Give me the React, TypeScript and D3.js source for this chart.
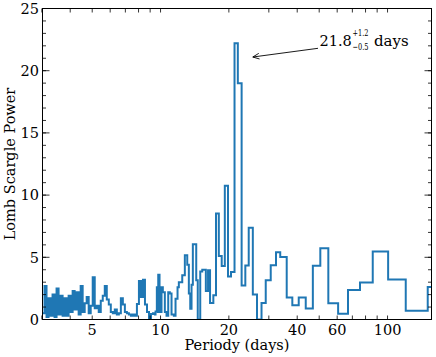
import React from "react";
import * as d3 from "d3";

// Step-plot data: left edge of each step (period, days) and Lomb-Scargle power
const periods = [
  3.021, 3.083, 3.146, 3.211, 3.277, 3.344, 3.413, 3.483, 3.555, 3.628,
  3.703, 3.779, 3.857, 3.936, 4.017, 4.1, 4.184, 4.27, 4.358, 4.448,
  4.539, 4.633, 4.728, 4.825, 4.925, 5.026, 5.13, 5.235, 5.343, 5.453,
  5.565, 5.68, 5.797, 5.916, 6.038, 6.162, 6.289, 6.419, 6.551, 6.686,
  6.823, 6.964, 7.107, 7.254, 7.403, 7.556, 7.711, 7.87, 8.032, 8.198,
  8.367, 8.539, 8.715, 8.894, 9.078, 9.265, 9.455, 9.506, 9.632, 9.73,
  9.769, 9.899, 10.1, 10.236, 10.446, 10.627, 10.812, 10.989, 11.18, 11.444,
  11.643, 11.882, 12.04, 12.463, 12.796, 13.112, 13.326, 13.517, 13.696, 13.878,
  14.364, 14.585, 14.96, 15.268, 15.834, 16.191, 16.524, 17.086, 17.556, 18.062,
  18.6, 19.194, 19.828, 20.44, 21.182, 21.903, 22.763, 23.633, 24.462, 25.501,
  26.612, 27.854, 29.069, 30.581, 32.269, 33.674, 35.963, 38.067, 40.624, 43.619,
  46.877, 50.567, 54.847, 60.579, 66.983, 75.638, 86.064, 100.61, 120.29, 150.33,
  156.2,
];
const power = [
  0.5, 2.7, 0.2, 1.7, 0.3, 2.0, 0.2, 2.5, 0.4, 1.9,
  0.3, 1.7, 0.3, 1.9, 0.6, 2.3, 0.8, 2.2, 0.4, 2.7,
  0.6, 1.3, 1.8, 0.5, 1.1, 3.4, 0.9, 1.1, 0.6, 1.5,
  1.9, 2.7, 1.6, 1.2, 0.6, 0.5, 0.8, 0.4, 0.5, 1.7,
  1.2, 0.6, 0.5, 0.4, 0.3, 0.4, 0.3, 1.25, 3.1, 1.8,
  3.2, 1.2, 0.6, 0.1, 0.45, 0.5, 0.4, 0.65, 2.6, 0.6,
  3.6, 0.6, 2.6, 2.2, 0.6, 0.3, 2.2, 2.1, 0.4, 0.3,
  1.67, 2.6, 3.0, 3.55, 5.16, 4.41, 2.1, 0.86, 2.8, 6.05,
  3.15, 0.0, 3.85, 4.0, 2.3, 3.95, 1.33, 1.95, 8.52, 5.1,
  4.3, 10.75, 3.45, 3.82, 22.2, 19.0, 2.74, 4.35, 7.38, 2.0,
  0.0, 1.33, 3.15, 4.36, 5.4, 5.03, 1.76, 1.15, 1.76, 0.89,
  4.32, 5.72, 1.31, 0.47, 2.37, 2.98, 5.46, 3.22, 0.7, 2.62,
  2.62,
];

const xTickLabels = [5, 10, 20, 40, 60, 100];
const xMinorTicks = [3, 4, 5, 6, 7, 8, 9, 10, 20, 30, 40, 50, 60, 70, 80, 90, 100];
const yMajorTicks = [0, 5, 10, 15, 20, 25];
const yMinorTicks = d3.range(0, 26);

const annotationText = { main: "21.8", sup: "+1.2", sub: "\u22120.5", unit: "days" };
const annotationTip = [25.5, 21.1];
const annotationTail = [49.4, 21.8];

const W = 436;
const H = 357;
const L = 42.5;
const R = 431.5;
const T = 8.5;
const B = 319.5;
const FONT = "'DejaVu Serif', serif";
const BLUE = "#1f77b4";

export default function App() {
  const x = d3.scaleLog().domain([3.02, 156.2]).range([L, R]);
  const y = d3.scaleLinear().domain([0, 25]).range([B, T]);

  const pts = periods.map((p, i) => [p, power[i]] as [number, number]);
  const line = d3
    .line<[number, number]>()
    .x((d) => x(d[0]))
    .y((d) => y(d[1]))
    .curve(d3.curveStepAfter);

  const tipX = x(annotationTip[0]);
  const tipY = y(annotationTip[1]);
  const tailX = x(annotationTail[0]);
  const tailY = y(annotationTail[1]);
  const ang = Math.atan2(tipY - tailY, tipX - tailX);
  const hl = 7;
  const hw = 0.42;
  const h1 = [tipX - hl * Math.cos(ang - hw), tipY - hl * Math.sin(ang - hw)];
  const h2 = [tipX - hl * Math.cos(ang + hw), tipY - hl * Math.sin(ang + hw)];

  return (
    <svg
      width={W}
      height={H}
      style={{ position: "absolute", left: 0, top: 0, background: "#fff" }}
      fontFamily={FONT}
    >
      <defs>
        <clipPath id="plot">
          <rect x={L} y={T} width={R - L} height={B - T} />
        </clipPath>
      </defs>
      <rect x={0} y={0} width={W} height={H} fill="#fff" />

      <path
        d={line(pts) || ""}
        fill="none"
        stroke={BLUE}
        strokeWidth={2}
        strokeLinejoin="miter"
        clipPath="url(#plot)"
      />

      {/* x ticks (bottom + top) */}
      {xMinorTicks.map((t) => (
        <g key={"xt" + t}>
          <line x1={x(t)} x2={x(t)} y1={B} y2={B - 4} stroke="#000" strokeWidth={0.8} />
          <line x1={x(t)} x2={x(t)} y1={T} y2={T + 4} stroke="#000" strokeWidth={0.8} />
        </g>
      ))}
      {/* y minor ticks */}
      {yMinorTicks.map((t) => (
        <g key={"ym" + t}>
          <line x1={L} x2={L + 3.5} y1={y(t)} y2={y(t)} stroke="#000" strokeWidth={0.8} />
          <line x1={R} x2={R - 3.5} y1={y(t)} y2={y(t)} stroke="#000" strokeWidth={0.8} />
        </g>
      ))}
      {/* y major ticks */}
      {yMajorTicks.map((t) => (
        <g key={"yM" + t}>
          <line x1={L} x2={L + 7} y1={y(t)} y2={y(t)} stroke="#000" strokeWidth={0.8} />
          <line x1={R} x2={R - 7} y1={y(t)} y2={y(t)} stroke="#000" strokeWidth={0.8} />
          <text
            x={L - 3.5}
            y={y(t) + 5.2}
            textAnchor="end"
            fontSize={14.5}
            fill="#000"
          >
            {t}
          </text>
        </g>
      ))}
      {xTickLabels.map((t) => (
        <text key={"xl" + t} x={x(t)} y={334.5} textAnchor="middle" fontSize={14.5} fill="#000">
          {t}
        </text>
      ))}

      <rect x={L} y={T} width={R - L} height={B - T} fill="none" stroke="#000" strokeWidth={1} />

      <text x={(L + R) / 2} y={350} textAnchor="middle" fontSize={14.5} fill="#000">
        Periody (days)
      </text>
      <text
        transform={`translate(14.5, ${(T + B) / 2}) rotate(-90)`}
        textAnchor="middle"
        fontSize={14.5}
        fill="#000"
      >
        Lomb Scargle Power
      </text>

      {/* annotation */}
      <line x1={tailX} y1={tailY} x2={tipX} y2={tipY} stroke="#000" strokeWidth={0.9} />
      <polyline
        points={`${h1[0]},${h1[1]} ${tipX},${tipY} ${h2[0]},${h2[1]}`}
        fill="none"
        stroke="#000"
        strokeWidth={0.9}
      />
      <text x={319.5} y={46} fontSize={14.5} fill="#000">
        {annotationText.main}
      </text>
      <text x={352.5} y={36} fontSize={9.5} textLength={16} lengthAdjust="spacingAndGlyphs" fill="#000">
        {annotationText.sup}
      </text>
      <text x={352.5} y={49.5} fontSize={9.5} textLength={16} lengthAdjust="spacingAndGlyphs" fill="#000">
        {annotationText.sub}
      </text>
      <text x={374} y={46} fontSize={15} fill="#000">
        {annotationText.unit}
      </text>
    </svg>
  );
}
